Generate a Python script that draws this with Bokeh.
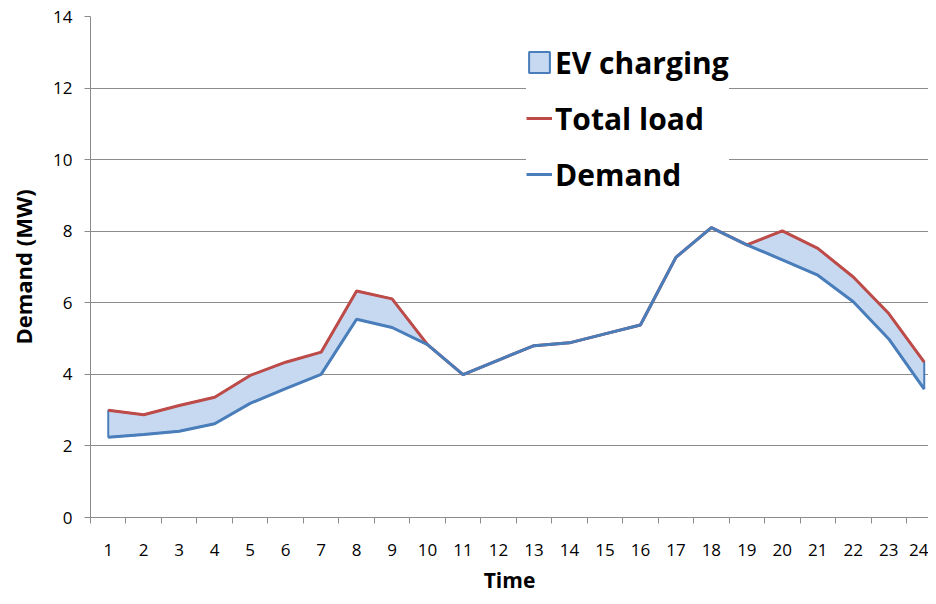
from bokeh.plotting import figure
from bokeh.models import Range1d, FixedTicker, Legend, LegendItem
from bokeh.embed import file_html
from bokeh.resources import INLINE

hours = [1, 2, 3, 4, 5, 6, 7, 8, 9, 10, 11, 12, 13, 14, 15, 16, 17, 18, 19, 20, 21, 22, 23, 24]
demand = [2.24, 2.32, 2.41, 2.62, 3.19, 3.60, 4.00, 5.54, 5.31, 4.83, 3.99, 4.40,
          4.80, 4.88, 5.13, 5.38, 7.27, 8.10, 7.62, 7.20, 6.77, 6.03, 4.99, 3.59]
total_load = [3.00, 2.87, 3.13, 3.36, 3.97, 4.34, 4.62, 6.33, 6.11, 4.83, 3.99, 4.40,
              4.80, 4.88, 5.13, 5.38, 7.27, 8.10, 7.62, 8.01, 7.52, 6.72, 5.70, 4.34]
y_ticks = [0, 2, 4, 6, 8, 10, 12, 14]

FONT = "Open Sans"
GRID = "#8c8c8c"
RED = "#BE4B48"
BLUE = "#4A7EBB"
FILL = "#C6D9F1"

p = figure(width=928, height=596, output_backend="svg", toolbar_location=None,
           x_range=Range1d(0.5, 24.12), y_range=Range1d(0, 14),
           min_border_left=90, min_border_top=16, min_border_bottom=74, min_border_right=0)
p.outline_line_color = None
p.background_fill_color = "white"
p.border_fill_color = "white"

# EV charging area between demand and total load
xs = hours + hours[::-1]
ys = total_load + demand[::-1]
area = p.patch(xs, ys, fill_color=FILL, line_color=BLUE, line_width=2)
r_total = p.line(hours, total_load, line_color=RED, line_width=3)
r_dem = p.line(hours, demand, line_color=BLUE, line_width=3)

# axes
p.xaxis.ticker = FixedTicker(ticks=hours, minor_ticks=[h - 0.5 for h in hours] + [24.5])
p.xaxis.major_tick_out = 0
p.xaxis.major_tick_in = 0
p.xaxis.minor_tick_out = 6
p.xaxis.minor_tick_in = 0
p.xaxis.major_label_standoff = 20
p.xaxis.axis_label = "Time"
p.xaxis.axis_label_standoff = 7

p.yaxis.ticker = FixedTicker(ticks=y_ticks)
p.yaxis.major_tick_out = 6
p.yaxis.major_tick_in = 0
p.yaxis.minor_tick_out = 0
p.yaxis.minor_tick_in = 0
p.yaxis.major_label_standoff = 12
p.yaxis.axis_label = "Demand (MW)"
p.yaxis.axis_label_standoff = 12

for ax in (p.xaxis[0], p.yaxis[0]):
    ax.axis_line_color = GRID
    ax.major_tick_line_color = GRID
    ax.minor_tick_line_color = GRID
    ax.major_label_text_font = FONT
    ax.major_label_text_font_size = "17px"
    ax.major_label_text_color = "black"
    ax.axis_label_text_font = FONT
    ax.axis_label_text_font_size = "21px"
    ax.axis_label_text_font_style = "bold"
    ax.axis_label_text_color = "black"
p.yaxis.axis_label_text_font_size = "22px"

p.xgrid.grid_line_color = None
p.ygrid.grid_line_color = GRID
p.ygrid.grid_line_width = 1
p.ygrid.ticker = FixedTicker(ticks=y_ticks)

legend = Legend(items=[
    LegendItem(label="EV charging", renderers=[area]),
    LegendItem(label="Total load", renderers=[r_total]),
    LegendItem(label="Demand", renderers=[r_dem]),
], location=(436, 318))
legend.label_text_font = FONT
legend.label_text_font_size = "30px"
legend.label_text_font_style = "bold"
legend.label_text_color = "black"
legend.glyph_width = 26
legend.glyph_height = 26
legend.label_standoff = 3
legend.label_height = 50
legend.spacing = 6
legend.padding = 6
legend.margin = 0
legend.border_line_color = None
legend.background_fill_color = "white"
legend.background_fill_alpha = 1.0
p.add_layout(legend, "center")

open("out.html", "w").write(file_html(p, INLINE))
